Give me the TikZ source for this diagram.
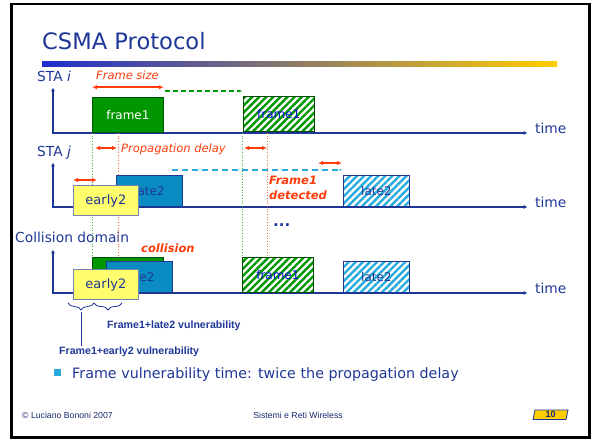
\documentclass[tikz,border=0pt]{standalone}
\usepackage{fontspec}
\setmainfont{DejaVu Sans}
\newfontfamily\arialfont{Liberation Sans}
\usetikzlibrary{arrows.meta,patterns.meta,decorations.pathreplacing}

\definecolor{slideblue}{RGB}{30,55,150}
\definecolor{navy}{RGB}{25,40,110}
\definecolor{barblue}{RGB}{30,45,205}
\definecolor{barmauve}{RGB}{190,150,150}
\definecolor{bargold}{RGB}{255,204,0}
\definecolor{redish}{RGB}{255,60,10}
\definecolor{frgreen}{RGB}{0,150,0}
\definecolor{latecyan}{RGB}{10,140,195}
\definecolor{hatchcyan}{RGB}{40,170,220}
\definecolor{earlyyellow}{RGB}{255,255,110}
\definecolor{earlyedge}{RGB}{120,130,175}

\newcommand{\pxsize}[1]{\fontsize{#1}{#1}\selectfont}

\begin{document}
\begin{tikzpicture}[x=1pt, y=-1pt,
    lbl/.style={text=slideblue, font=\pxsize{13.8}, inner sep=0},
    redlbl/.style={text=redish, font=\pxsize{11.5}\itshape, inner sep=0},
    boldred/.style={text=redish, font=\pxsize{11.5}\bfseries\itshape, inner sep=0},
    box/.style={draw, line width=0.8pt, inner sep=0, anchor=south west, font=\pxsize{12}},
    greenbox/.style={box, fill=frgreen, draw=frgreen!55!black, text=white, minimum width=71pt, minimum height=35pt},
    greenhatch/.style={box, preaction={fill=white}, pattern={Lines[angle=45,distance=5pt,line width=2.4pt]}, pattern color=frgreen, draw=frgreen!50!black, text=blue!70!slideblue, minimum width=71pt, minimum height=35pt},
    latebox/.style={box, fill=latecyan, draw=slideblue, text=slideblue, minimum width=66pt, minimum height=31pt},
    latehatch/.style={box, preaction={fill=white}, pattern={Lines[angle=45,distance=5pt,line width=2.4pt]}, pattern color=hatchcyan, draw=slideblue, text=slideblue, minimum width=66pt, minimum height=31pt},
    earlybox/.style={box, fill=earlyyellow, draw=earlyedge, text=slideblue, minimum width=65pt, minimum height=30pt, font=\pxsize{13}},
    axis/.style={draw=slideblue, line width=1.4pt, {Stealth[length=3.5pt,width=4pt]}-{Stealth[length=3.5pt,width=4pt]}},
    delay/.style={draw=redish, line width=1.4pt, {Latex[length=5pt,width=4.5pt]}-{Latex[length=5pt,width=4.5pt]}},
    gdot/.style={draw=frgreen!70, line width=0.7pt, dotted},
    rdot/.style={draw=redish!75, line width=0.7pt, dotted},
    vuln/.style={text=slideblue, font=\arialfont\pxsize{10.6}\bfseries, inner sep=0},
    foot/.style={text=navy, font=\arialfont\pxsize{8.7}, inner sep=0}]
\useasboundingbox (0,0) rectangle (593,441);
\draw[line width=2.5pt] (11.5,4) rectangle (589.5,437.5);

\node[anchor=base west, text=slideblue, font=\pxsize{22.6}, inner sep=0] (title) at (42,50) {CSMA Protocol};
\shade[left color=barblue, middle color=barmauve, right color=bargold] (42,62) rectangle (557,67);

\node[lbl, anchor=base west] (stai) at (37,82) {STA \textit{i}};
\node[lbl, anchor=base west] (staj) at (37,156) {STA \textit{j}};
\node[lbl, anchor=base west] (coll) at (15,242) {Collision domain};

\coordinate (ya) at (53,88);  \coordinate (xa) at (527,133);
\coordinate (yb) at (53,163); \coordinate (xb) at (527,207);
\coordinate (yc) at (53,250); \coordinate (xc) at (527,293);
\draw[axis] (ya) |- (xa);
\draw[axis] (yb) |- (xb);
\draw[axis] (yc) |- (xc);
\node[lbl, anchor=base west] (timei) at (535,133) {time};
\node[lbl, anchor=base west] (timej) at (535,207) {time};
\node[lbl, anchor=base west] (timec) at (535,293) {time};

\node[greenbox] (f1i) at (92,133) {frame1};
\node[greenhatch] (hf1i) at (242,133) {frame1};
\node[greenbox] (f1c) at (92,293) {};
\node[greenhatch] (hf1c) at (242,293) {frame1};

\coordinate (ra) at (118,133);
\coordinate (rb) at (267,133);
\draw[gdot] (f1i.south west) -- (f1c.north west);
\draw[rdot] (ra) -- (ra |- f1c.north);
\draw[gdot] (hf1i.south west) -- (hf1c.north west);
\draw[rdot] (rb) -- (rb |- hf1c.north);

\node[latebox] (l2j) at (116,207) {late2};
\node[earlybox] (e2j) at (73,216) {early2};
\node[latehatch] (hl2j) at (343,207) {late2};
\node[latebox] (l2c) at (106,293) {late2};
\node[earlybox] (e2c) at (73,300) {early2};
\node[latehatch] (hl2c) at (343,293) {late2};

\draw[delay] ([yshift=10pt]f1i.north west) -- ([yshift=10pt]f1i.north east);
\node[redlbl, anchor=base] (fsize) at (127.5,80) {Frame size};
\coordinate (ga) at (165,91); \coordinate (gb) at (242,91);
\draw[frgreen, line width=1.1pt, dash pattern=on 5pt off 3pt, -{Stealth[length=3pt]}] (ga) -- (gb);

\coordinate (pa) at (95,148);  \coordinate (pb) at (117,148);
\coordinate (pc) at (244,148); \coordinate (pd) at (267,148);
\coordinate (pe) at (73,180);  \coordinate (pf) at (97,180);
\coordinate (pg) at (318,163); \coordinate (ph) at (342,163);
\coordinate (ca) at (172,170); \coordinate (cb) at (342,170);
\draw[delay] (pa) -- (pb);
\node[redlbl, anchor=base west] (pdelay) at (121,152) {Propagation delay};
\draw[delay] (pc) -- (pd);
\draw[delay] (pe) -- (pf);
\draw[delay] (pg) -- (ph);
\draw[hatchcyan, line width=1.3pt, dash pattern=on 6pt off 4pt, -{Stealth[length=3pt]}] (ca) -- (cb);

\node[boldred, anchor=base west, align=left] (det) at (269,199) {Frame1\\[3.5pt]detected};
\node[text=slideblue, font=\pxsize{15}\bfseries, anchor=base west, inner sep=0] (dots) at (273,226) {...};
\node[boldred, anchor=base west] (coltxt) at (141,252) {collision};

\coordinate (ba) at (68,303);  \coordinate (bb) at (94,303);  \coordinate (bc) at (122,303);
\coordinate (tipa) at (81,312);
\draw[slideblue, line width=0.8pt, decorate, decoration={brace, mirror, amplitude=7pt}] (ba) -- (bb);
\draw[slideblue, line width=0.8pt, decorate, decoration={brace, mirror, amplitude=7pt}] (bb) -- (bc);
\node[vuln, anchor=base west] (vlate) at (107,328) {Frame1+late2 vulnerability};
\node[vuln, anchor=base west] (vearly) at (59,354) {Frame1+early2 vulnerability};
\draw[slideblue, line width=0.9pt] (tipa) -- (tipa |- vearly.north);

\node[fill=hatchcyan, minimum size=7pt, inner sep=0] (bul) at (57.5,372.5) {};
\node[anchor=base west, text=slideblue, font=\pxsize{14.3}, inner sep=0] (btext) at (72,378) {Frame vulnerability time: twice the propagation delay};

\node[foot, anchor=base west] (foota) at (22,418) {\textcopyright\ Luciano Bononi 2007};
\node[foot, anchor=base] (footb) at (298,418) {Sistemi e Reti Wireless};
\draw[fill=bargold, draw=slideblue, line width=0.8pt] (535,410) -- (568,410) -- (566,419.5) -- (533,419.5) -- cycle;
\node[text=navy, font=\arialfont\pxsize{9}\bfseries, inner sep=0] (pgnum) at (550.5,414.8) {10};
\end{tikzpicture}
\end{document}
